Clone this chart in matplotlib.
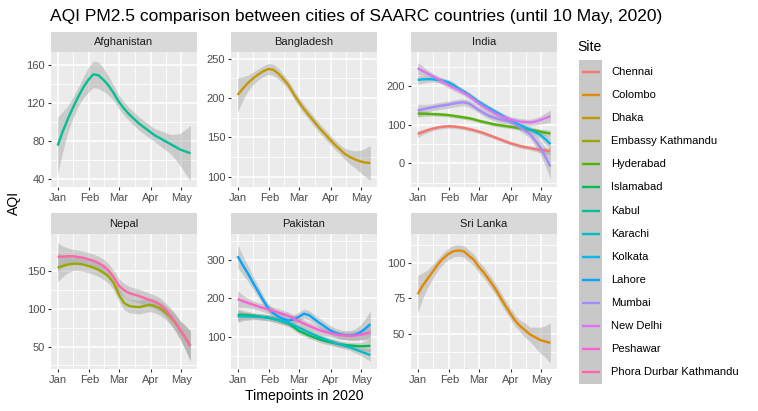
import matplotlib
matplotlib.use("Agg")
import matplotlib.pyplot as plt
from matplotlib.patches import Rectangle

# ---------------- data ----------------
# day offsets from 1 Jan 2020 (every 5 days up to 10 May)
days = [0, 5, 10, 15, 20, 25, 30, 35, 40, 45, 50, 55, 60, 65, 70, 75, 80, 85,
        90, 95, 100, 105, 110, 115, 120, 125, 130]
month_ticks = [0, 31, 60, 91, 121]
month_minor = [15.5, 45.5, 75.5, 106]
month_labels = ["Jan", "Feb", "Mar", "Apr", "May"]

sites = ["Chennai", "Colombo", "Dhaka", "Embassy Kathmandu", "Hyderabad",
         "Islamabad", "Kabul", "Karachi", "Kolkata", "Lahore", "Mumbai",
         "New Delhi", "Peshawar", "Phora Durbar Kathmandu"]
site_colors = ["#F8766D", "#E38900", "#C49A00", "#99A800", "#53B400",
               "#00BC56", "#00C094", "#00BFC4", "#00B6EB", "#06A4FF",
               "#A58AFF", "#DF70F8", "#FB61D7", "#FF66A8"]

countries = ["Afghanistan", "Bangladesh", "India", "Nepal", "Pakistan", "Sri Lanka"]

# smoothed AQI and confidence half-width, per site
kabul = [75, 90, 103, 115, 126, 136, 144, 150, 149, 144, 138, 130, 121, 114,
         108, 103, 98, 94, 90, 86, 83, 80, 77, 74, 71, 69, 67]
kabul_se = [30, 21, 14, 11, 10, 11, 13, 14, 14, 12, 10, 8, 7, 7, 7, 7, 7, 7,
            7, 7, 8, 9, 10, 13, 17, 23, 29]

dhaka = [204, 212, 219, 225, 230, 234, 237, 236, 231, 224, 216, 205, 195, 186,
         178, 170, 162, 155, 148, 141, 135, 129, 125, 122, 119.5, 118, 117.5]
dhaka_se = [22, 15, 10, 8, 7, 7, 7, 7, 7, 6, 6, 6, 6, 6, 6, 6, 6, 6, 6, 6, 6,
            7, 9, 11, 14, 18, 22]

chennai = [76, 81, 86, 90, 93, 95, 96, 95.5, 94, 92, 89, 86, 82, 78, 73, 68,
           63, 58, 53, 49, 45, 42, 40, 37, 35, 33, 32]
chennai_se = [9, 7, 6, 5, 5, 5, 5, 5, 5, 5, 5, 5, 5, 5, 5, 5, 5, 5, 5, 5, 5,
              5, 5, 6, 7, 8, 9]
hyderabad = [129, 128.5, 128, 127.5, 127, 126, 125, 123, 121, 119, 117, 114,
             110, 107, 104, 101, 99, 97, 95, 93, 91, 89, 87, 85, 82, 79.5, 77]
hyderabad_se = [9, 7, 6, 5, 5, 5, 5, 5, 5, 5, 5, 5, 5, 5, 5, 5, 5, 5, 5, 5, 5,
                5, 5, 6, 7, 8, 9]
kolkata = [216, 217.5, 218, 217.5, 216, 213.5, 210, 203, 194, 186, 178, 168.5,
           159, 151, 143, 135.5, 128, 120, 112, 105.5, 99, 93.5, 88, 81, 74,
           63, 50]
kolkata_se = [12, 10, 8, 7, 7, 7, 7, 7, 7, 7, 7, 7, 7, 7, 7, 7, 7, 7, 7, 7, 7,
              7, 8, 9, 10, 12, 15]
mumbai = [137, 140, 143, 145.5, 148, 150, 152, 154.5, 157, 158, 155, 147, 138,
          130, 123, 118, 114, 111, 108, 101, 93, 85, 76, 60, 42, 18, -8]
mumbai_se = [16, 13, 10, 9, 9, 9, 9, 9, 9, 9, 9, 8, 8, 8, 8, 8, 8, 8, 8, 8, 9,
             10, 11, 14, 18, 24, 32]
new_delhi = [246, 239, 232, 225, 218, 210.5, 203, 196.5, 190, 183, 175, 165,
             155, 146, 138, 131, 124, 119, 114, 111, 108, 107, 106, 108, 112,
             117, 122]
new_delhi_se = [15, 12, 9, 8, 8, 8, 8, 8, 8, 8, 8, 8, 8, 8, 8, 8, 8, 8, 8, 8,
                8, 8, 8, 9, 10, 13, 16]

embassy_kathmandu = [155, 157, 159, 160, 160, 159, 157, 155, 152, 148, 143,
                     134, 119, 108, 104, 103, 102.5, 104, 105.5, 104, 101, 96,
                     90, 82, 72, 62, 51]
embassy_kathmandu_se = [19, 14, 11, 9, 9, 9, 9, 9, 9, 9, 9, 9, 9, 9, 9, 9, 9,
                        9, 9, 9, 9, 9, 10, 11, 12, 16, 20]
phora_durbar = [169, 169.5, 170, 170, 169, 168, 166, 164, 161, 157, 151, 142,
                131, 125, 121, 119, 117, 114.5, 112, 109.5, 106, 100, 92, 83,
                72, 62, 51]
phora_durbar_se = [19, 14, 11, 9, 9, 9, 9, 9, 9, 9, 9, 9, 9, 9, 9, 9, 9, 9, 9,
                   9, 9, 9, 10, 11, 12, 16, 20]

lahore = [310, 287, 265, 241, 218, 195, 174, 161, 152, 146, 142, 145, 152, 160,
          156, 146, 136, 127, 118, 111, 106, 104, 103, 105, 111, 121, 133]
lahore_se = [30, 25, 20, 17, 15, 13, 12, 12, 12, 12, 12, 12, 12, 12, 12, 12,
             12, 12, 12, 12, 12, 12, 13, 15, 19, 26, 35]
peshawar = [198, 193, 188, 183.5, 179, 175, 171, 167, 163, 158.5, 154, 147,
            140, 134, 128, 122.5, 117, 113, 110, 107, 104, 103, 102, 103, 105,
            108, 111]
peshawar_se = [22, 16, 12, 10, 10, 10, 10, 10, 10, 10, 10, 10, 10, 10, 10, 10,
               10, 10, 10, 10, 10, 10, 10, 11, 13, 17, 22]
islamabad = [157, 157, 156, 155, 153, 151.5, 150, 147, 143, 139, 134, 125, 115,
             109, 103, 98, 93, 89, 86, 83, 80, 78.5, 77, 76, 75, 75.5, 76]
islamabad_se = [16, 12, 10, 8, 8, 8, 8, 8, 8, 8, 8, 8, 8, 8, 8, 8, 8, 8, 8, 8,
                8, 8, 8, 9, 10, 13, 16]
karachi = [153, 153, 153, 152.5, 152, 150.5, 149, 146, 143, 139, 135, 130, 124,
           117.5, 111, 105, 99, 94, 89, 84.5, 80, 76, 72, 67, 62, 57, 52]
karachi_se = [16, 12, 10, 8, 8, 8, 8, 8, 8, 8, 8, 8, 8, 8, 8, 8, 8, 8, 8, 8,
              8, 8, 8, 9, 10, 13, 16]

colombo = [78, 84, 89, 94, 99, 103, 106, 108, 108.5, 108, 105, 102, 97, 93, 88,
           83, 77, 71, 65.5, 60, 56, 53, 50, 48, 46, 45, 44]
colombo_se = [13, 9, 6, 5, 4, 4, 4, 4, 4, 4, 4, 4, 4, 4, 4, 4, 4, 4, 4, 4, 4,
              5, 5, 7, 9, 11, 14]

panel_series = {
    "Afghanistan": [("Kabul", kabul, kabul_se)],
    "Bangladesh": [("Dhaka", dhaka, dhaka_se)],
    "India": [("Chennai", chennai, chennai_se), ("Hyderabad", hyderabad, hyderabad_se),
              ("Kolkata", kolkata, kolkata_se), ("Mumbai", mumbai, mumbai_se),
              ("New Delhi", new_delhi, new_delhi_se)],
    "Nepal": [("Embassy Kathmandu", embassy_kathmandu, embassy_kathmandu_se),
              ("Phora Durbar Kathmandu", phora_durbar, phora_durbar_se)],
    "Pakistan": [("Islamabad", islamabad, islamabad_se), ("Karachi", karachi, karachi_se),
                 ("Lahore", lahore, lahore_se), ("Peshawar", peshawar, peshawar_se)],
    "Sri Lanka": [("Colombo", colombo, colombo_se)],
}

y_major = {
    "Afghanistan": [40, 80, 120, 160],
    "Bangladesh": [100, 150, 200, 250],
    "India": [0, 100, 200],
    "Nepal": [50, 100, 150],
    "Pakistan": [100, 200, 300],
    "Sri Lanka": [50, 75, 100],
}
y_limits = {
    "Afghanistan": (31.6, 172.9),
    "Bangladesh": (86.9, 258.0),
    "India": (-61, 286.8),
    "Nepal": (20.3, 199.5),
    "Pakistan": (15.7, 367.8),
    "Sri Lanka": (25.8, 120.0),
}

# ---------------- layout ----------------
W, H = 758, 411
DPI = 100
plt.rcParams["font.family"] = ["Liberation Sans", "DejaVu Sans"]
fig = plt.figure(figsize=(W / DPI, H / DPI), dpi=DPI)
fig.patch.set_facecolor("white")


def fig_rect(x0, y0, x1, y1):
    return [x0 / W, 1 - y1 / H, (x1 - x0) / W, (y1 - y0) / H]


cols = [(51, 197), (231, 377), (411, 557)]
rows = [(32, 52.5, 187), (213, 234, 369)]
color_of = dict(zip(sites, site_colors))

TICK_FS = 8.0
for i, country in enumerate(countries):
    r, c = divmod(i, 3)
    x0, x1 = cols[c]
    s0, p0, p1 = rows[r]
    # strip
    sax = fig.add_axes(fig_rect(x0, s0, x1, p0))
    sax.set_facecolor("#D9D9D9")
    sax.set_xticks([]); sax.set_yticks([])
    for sp in sax.spines.values():
        sp.set_visible(False)
    sax.text(0.5, 0.5, country, ha="center", va="center", fontsize=TICK_FS,
             color="#1A1A1A", transform=sax.transAxes)

    ax = fig.add_axes(fig_rect(x0, p0, x1, p1))
    ax.set_facecolor("#EBEBEB")
    for sp in ax.spines.values():
        sp.set_visible(False)
    ax.set_xlim(-6.5, 136.5)
    ax.set_ylim(*y_limits[country])
    ax.set_xticks(month_ticks)
    ax.set_xticklabels(month_labels)
    ax.set_xticks(month_minor, minor=True)
    yt = y_major[country]
    ax.set_yticks(yt)
    step = yt[1] - yt[0]
    ymin, ymax = y_limits[country]
    minors = []
    v = yt[0] - step / 2
    while v >= ymin:
        minors.append(v); v -= step
    v = yt[0] + step / 2
    while v <= ymax:
        minors.append(v); v += step
    ax.set_yticks(minors, minor=True)
    ax.grid(which="major", color="white", linewidth=1.15)
    ax.grid(which="minor", color="white", linewidth=0.6)
    ax.set_axisbelow(True)
    ax.tick_params(which="major", length=2.2, width=0.8, color="#333333",
                   labelsize=TICK_FS, labelcolor="#4D4D4D", pad=2)
    ax.tick_params(which="minor", length=0)

    for site, vals, se in panel_series[country]:
        lo = [v - s for v, s in zip(vals, se)]
        hi = [v + s for v, s in zip(vals, se)]
        ax.fill_between(days, lo, hi, color="#999999", alpha=0.4, linewidth=0)
        ax.plot(days, vals, color=color_of[site], linewidth=1.7,
                solid_capstyle="butt", solid_joinstyle="round")

# titles
fig.text(50 / W, 1 - 16 / H, "AQI PM2.5 comparison between cities of SAARC countries (until 10 May, 2020)",
         ha="left", va="center", fontsize=12.5, color="black")
fig.text(304 / W, 1 - 396 / H, "Timepoints in 2020", ha="center", va="center",
         fontsize=10.1, color="black")
fig.text(14 / W, 1 - 203 / H, "AQI", ha="center", va="center", rotation=90,
         fontsize=10.1, color="black")

# legend
lax = fig.add_axes([0, 0, 1, 1], facecolor="none")
lax.set_xlim(0, W); lax.set_ylim(H, 0)
lax.axis("off")
lax.text(577, 47, "Site", ha="left", va="center", fontsize=10.1, color="black")
key_top = 60.5
key_h = 23.08
lax.add_patch(Rectangle((579, key_top), 22.5, key_h * len(sites),
                        facecolor="#C8C8C8", edgecolor="none"))
for k, site in enumerate(sites):
    yc = key_top + key_h * (k + 0.5)
    lax.plot([581.5, 599.5], [yc, yc], color=color_of[site], linewidth=1.7,
             solid_capstyle="butt")
    lax.text(611, yc, site, ha="left", va="center", fontsize=TICK_FS, color="black")

fig.savefig("out.png", dpi=DPI)
